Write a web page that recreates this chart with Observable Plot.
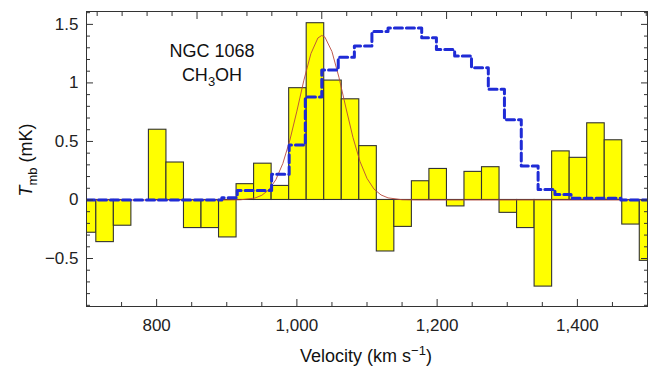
<!DOCTYPE html>
<html><head><meta charset="utf-8">
<script src="https://cdn.jsdelivr.net/npm/d3@7"></script>
<script src="https://cdn.jsdelivr.net/npm/@observablehq/plot@0.6"></script>
<style>
body{margin:0;background:#fff;}
#chart svg{display:block;}
</style>
</head><body><div id="chart"></div>
<script>
// Channel lower edges (km/s), 25 km/s wide channels
const binLo = [689,714,739,764,789,814,839,864,889,914,939,964,989,1014,1039,1064,1089,1114,1139,1164,1189,1214,1239,1264,1289,1314,1339,1364,1389,1414,1439,1464,1489];
const binValue = [-0.28,-0.36,-0.22,0,0.60,0.32,-0.24,-0.24,-0.32,0.135,0.31,0.12,0.955,1.51,1.02,0.86,0.46,-0.44,-0.23,0.16,0.265,-0.055,0.24,0.28,-0.11,-0.24,-0.74,0.415,0.36,0.655,0.51,-0.21,-0.52];
const binWidth = 25;

// Gaussian fit
const fitX = [700,900,920,940,950,960,970,980,990,1000,1010,1020,1030,1035.5,1040,1050,1060,1070,1080,1090,1100,1110,1120,1130,1150,1170,1500];
const fitY = [0,0,0.002,0.016,0.040,0.087,0.173,0.312,0.511,0.759,1.023,1.25,1.384,1.405,1.391,1.268,1.048,0.786,0.534,0.329,0.184,0.093,0.043,0.018,0.002,0,0];

// Blue dashed comparison profile (step edges and levels)
const blueX = [700,893,915,964,989,1012,1035.5,1059,1082,1107,1130,1178,1199,1225,1249,1273,1296,1320,1344,1368,1391,1462,1500];
const blueY = [0,0.02,0.08,0.22,0.47,0.88,1.11,1.22,1.315,1.44,1.47,1.385,1.285,1.23,1.13,0.946,0.685,0.29,0.09,0.047,0.015,0,0];

// Axis ticks
const xMajor = [800,1000,1200,1400];
const xMinor = [700,750,850,900,950,1050,1100,1150,1250,1300,1350,1450,1500];
const yMajor = [-0.5,0,0.5,1,1.5];
const yMinor = [-0.9,-0.8,-0.7,-0.6,-0.4,-0.3,-0.2,-0.1,0.1,0.2,0.3,0.4,0.6,0.7,0.8,0.9,1.1,1.2,1.3,1.4,1.6];
const topMajor = [857.6,1035.5,1213.5,1391.4];
const topMinor = [715.2,750.8,786.4,822.0,893.2,928.8,964.3,999.9,1071.1,1106.7,1142.3,1177.9,1249.1,1284.7,1320.3,1355.8,1427.0,1462.6,1498.2];

const bars = binLo.map((lo, i) => ({lo, hi: lo + binWidth, v: binValue[i]}));
const fit = fitX.map((x, i) => ({x, y: fitY[i]}));
const blue = blueX.map((x, i) => ({x, y: blueY[i]}));

const fmtY = d => d < 0 ? "\u2212" + Math.abs(d) : String(d);
const blank = () => "";
const MAJ = 7, MIN = 4;
const tk = {tickFormat: blank, label: null, stroke: "#333", strokeWidth: 1};

const plot = Plot.plot({
  width: 648,
  height: 367,
  marginLeft: 86,
  marginRight: 1,
  marginTop: 11,
  marginBottom: 61,
  style: {fontFamily: "'Liberation Sans', Arial, Helvetica, sans-serif", fontSize: "17px", color: "#222", background: "#fff"},
  x: {domain: [700, 1500]},
  y: {domain: [-0.91, 1.61]},
  marks: [
    Plot.rect(bars, {x1: "lo", x2: "hi", y1: 0, y2: "v", fill: "#ffff00", stroke: "#333", strokeWidth: 1.1, clip: true}),
    Plot.line(fit, {x: "x", y: "y", stroke: "#b8473a", strokeWidth: 0.9, clip: true}),
    Plot.line(blue, {x: "x", y: "y", curve: "step-after", stroke: "#1f2bd6", strokeWidth: 3, strokeDasharray: "8,4", clip: true}),
    Plot.frame({stroke: "#333", strokeWidth: 1}),
    // bottom axis: labels + inward ticks
    Plot.axisX({anchor: "bottom", ticks: xMajor, tickSize: 0, tickPadding: 12, tickFormat: d3.format(","), label: null, fontSize: 17}),
    Plot.axisX({anchor: "bottom", ticks: xMajor, tickSize: MAJ, dy: -MAJ, ...tk}),
    Plot.axisX({anchor: "bottom", ticks: xMinor, tickSize: MIN, dy: -MIN, ...tk}),
    // top axis: inward ticks only
    Plot.axisX({anchor: "top", ticks: topMajor, tickSize: MAJ, dy: MAJ, ...tk}),
    Plot.axisX({anchor: "top", ticks: topMinor, tickSize: MIN, dy: MIN, ...tk}),
    // left axis
    Plot.axisY({anchor: "left", ticks: yMajor, tickSize: 0, tickPadding: 8, tickFormat: fmtY, label: null, fontSize: 17}),
    Plot.axisY({anchor: "left", ticks: yMajor, tickSize: MAJ, dx: MAJ, ...tk}),
    Plot.axisY({anchor: "left", ticks: yMinor, tickSize: MIN, dx: MIN, ...tk}),
    // right axis
    Plot.axisY({anchor: "right", ticks: yMajor, tickSize: MAJ, dx: -MAJ, ...tk}),
    Plot.axisY({anchor: "right", ticks: yMinor, tickSize: MIN, dx: -MIN, ...tk})
  ]
});

const svg = d3.select(plot);
const font = "'Liberation Sans', Arial, Helvetica, sans-serif";
// annotation
const ann = svg.append("g").attr("font-family", font).attr("font-size", 18).attr("fill", "#111").attr("text-anchor", "middle");
ann.append("text").attr("x", 212).attr("y", 57).text("NGC 1068");
const ch = ann.append("text").attr("x", 212).attr("y", 81);
ch.append("tspan").text("CH");
ch.append("tspan").attr("font-size", 13).attr("dy", 5).text("3");
ch.append("tspan").attr("dy", -5).text("OH");
// y label
const yl = svg.append("text").attr("font-family", font).attr("font-size", 18).attr("fill", "#111")
  .attr("text-anchor", "middle").attr("transform", "translate(32,160) rotate(-90)");
yl.append("tspan").attr("font-style", "italic").text("T");
yl.append("tspan").attr("font-size", 13).attr("dy", 5).text("mb");
yl.append("tspan").attr("dy", -5).text(" (mK)");
// x label
const xl = svg.append("text").attr("font-family", font).attr("font-size", 18).attr("fill", "#111")
  .attr("text-anchor", "middle").attr("x", 366).attr("y", 362);
xl.append("tspan").text("Velocity (km s");
xl.append("tspan").attr("font-size", 13).attr("dy", -7).text("\u22121");
xl.append("tspan").attr("dy", 7).text(")");

document.getElementById("chart").appendChild(plot);
</script>
</body></html>
